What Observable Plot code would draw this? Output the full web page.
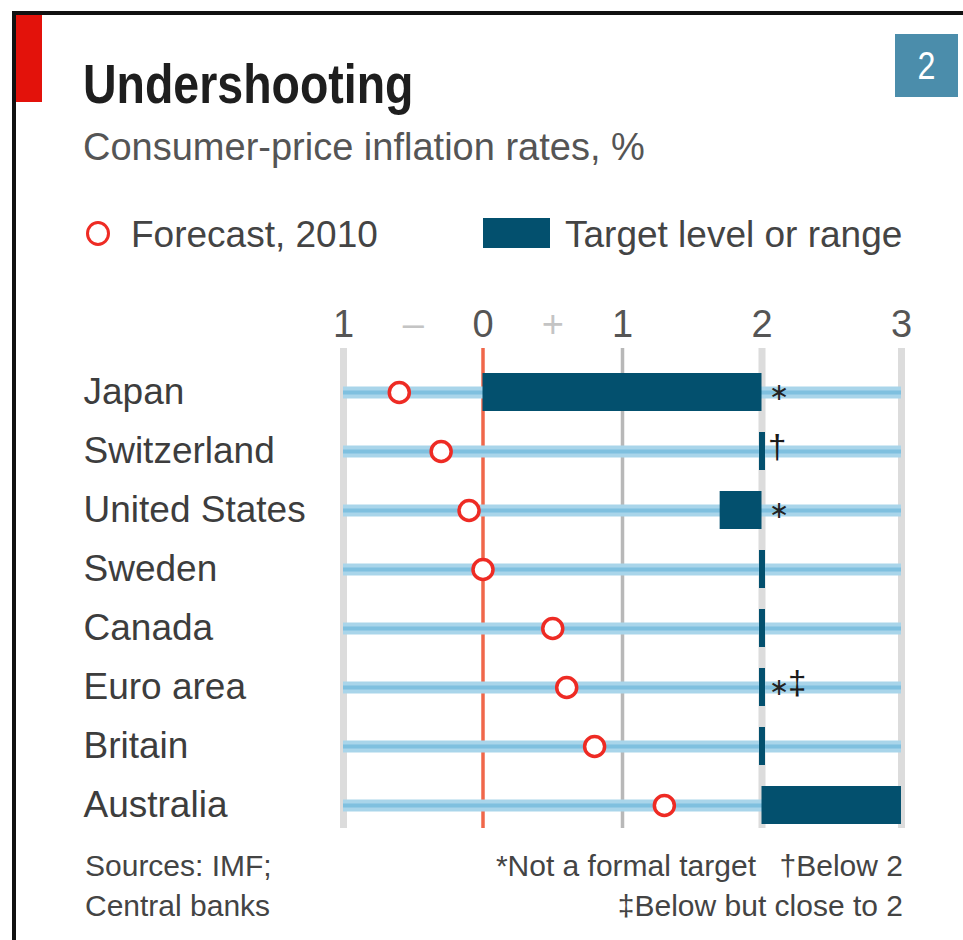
<!DOCTYPE html>
<html>
<head>
<meta charset="utf-8">
<script src="https://cdn.jsdelivr.net/npm/d3@7"></script>
<script src="https://cdn.jsdelivr.net/npm/@observablehq/plot@0.6"></script>
<style>
  body { margin: 0; background: #fff; }
  #page { position: relative; width: 963px; height: 940px; overflow: hidden; background: #fff;
          font-family: "Liberation Sans", Arial, sans-serif; }
  .abs { position: absolute; white-space: nowrap; line-height: 1; }
  #chart { position: absolute; left: 0; top: 290px; }
</style>
</head>
<body>
<div id="page">
  <div class="abs" style="left:12px;top:11px;width:951px;height:4px;background:#111;"></div>
  <div class="abs" style="left:12px;top:11px;width:4px;height:929px;background:#111;"></div>
  <div class="abs" style="left:16px;top:15px;width:26px;height:87px;background:#e3120b;"></div>
  <div class="abs" style="left:895px;top:34px;width:63px;height:63px;background:#4b8dab;color:#fff;
       font-size:38px;display:flex;align-items:center;justify-content:center;"><span style="display:inline-block;transform:scaleX(0.85);">2</span></div>

  <div class="abs" id="title" style="left:83px;top:55.6px;font-size:56px;font-weight:bold;color:#1e1e1e;
       transform:scaleX(0.83);transform-origin:0 0;">Undershooting</div>
  <div class="abs" id="subtitle" style="left:83px;top:127.8px;font-size:38px;color:#555;">Consumer-price inflation rates, %</div>

  <div class="abs" style="left:86px;top:221px;width:24px;height:25px;box-sizing:border-box;border:3.5px solid #ee2b24;border-radius:50%;"></div>
  <div class="abs" style="left:131px;top:215.7px;font-size:37px;color:#444;">Forecast, 2010</div>
  <div class="abs" style="left:483px;top:218px;width:67px;height:30px;background:#03506e;"></div>
  <div class="abs" style="left:565px;top:215.7px;font-size:37px;color:#444;">Target level or range</div>

  <div id="chart"></div>

  <div class="abs" style="left:85px;top:850.6px;font-size:30px;color:#444;">Sources: IMF;</div>
  <div class="abs" style="left:85px;top:890.6px;font-size:30px;color:#444;">Central banks</div>
  <div class="abs" style="right:207px;top:850.6px;font-size:30px;color:#444;">*Not a formal target</div>
  <div class="abs" style="right:60px;top:850.6px;font-size:30px;color:#444;">†Below 2</div>
  <div class="abs" style="right:60px;top:890.6px;font-size:30px;color:#444;">‡Below but close to 2</div>
</div>
<script>
const countries = ["Japan", "Switzerland", "United States", "Sweden", "Canada", "Euro area", "Britain", "Australia"];
const forecast2010 = [-0.6, -0.3, -0.1, 0.0, 0.5, 0.6, 0.8, 1.3];
const targetLow = [0, 2, 1.7, 2, 2, 2, 2, 2];
const targetHigh = [2, 2, 2, 2, 2, 2, 2, 3];
const starNotes = ["∗", "", "∗", "", "", "∗", "", ""];
const daggerNotes = ["", "†", "", "", "", "‡", "", ""];
const majorTicks = [-1, 0, 1, 2, 3];
const majorTickLabels = ["1", "0", "1", "2", "3"];
const signTicks = [-0.5, 0.5];
const signTickLabels = ["–", "+"];

const rows = countries.map((c, i) => ({
  country: c, forecast: forecast2010[i], lo: targetLow[i], hi: targetHigh[i],
  star: starNotes[i], dagger: daggerNotes[i]
}));

const chart = Plot.plot({
  width: 963,
  height: 550,
  marginLeft: 343,
  marginRight: 62,
  marginTop: 58,
  marginBottom: 12,
  style: { fontFamily: "'Liberation Sans', Arial, sans-serif", background: "transparent", overflow: "visible" },
  x: { domain: [-1, 3], axis: null },
  y: { type: "band", domain: countries, range: [71.36, 545.64], paddingInner: 0.359, paddingOuter: 0.1795, align: 0.5, axis: null },
  marks: [
    Plot.ruleX([-1, 2, 3], { stroke: "#dcdcdc", strokeWidth: 7 }),
    Plot.ruleX([1], { stroke: "#b8b8b8", strokeWidth: 3.5 }),
    Plot.ruleX([0], { stroke: "#f0674a", strokeWidth: 3.5 }),
    Plot.ruleY(rows, { y: "country", x1: -1, x2: 3, stroke: "#a9d5ea", strokeWidth: 12 }),
    Plot.ruleY(rows, { y: "country", x1: -1, x2: 3, stroke: "#7fc0df", strokeWidth: 4 }),
    Plot.barX(rows.filter(d => d.hi > d.lo), { x1: "lo", x2: "hi", y: "country", fill: "#03506e" }),
    Plot.tickX(rows.filter(d => d.hi === d.lo), { x: "lo", y: "country", stroke: "#03506e", strokeWidth: 6 }),
    Plot.text(rows.filter(d => d.star), { x: "hi", y: "country", text: "star", textAnchor: "start", dx: 7, fontSize: 24, fill: "#222" }),
    Plot.text(rows.filter(d => d.dagger && !d.star), { x: "hi", y: "country", text: "dagger", textAnchor: "start", dx: 6, dy: -4, fontSize: 33, fill: "#1a1a1a" }),
    Plot.text(rows.filter(d => d.dagger && d.star), { x: "hi", y: "country", text: "dagger", textAnchor: "start", dx: 26, dy: -4, fontSize: 33, fill: "#1a1a1a" }),
    Plot.dot(rows, { x: "forecast", y: "country", r: 10, stroke: "#ee2b24", strokeWidth: 3.5, fill: "white" }),
    Plot.axisX(majorTicks, { anchor: "top", tickSize: 0, tickPadding: 12, label: null,
      tickFormat: d => majorTickLabels[majorTicks.indexOf(d)], fill: "#555", fontSize: 38 }),
    Plot.axisX(signTicks, { anchor: "top", tickSize: 0, tickPadding: 12, label: null,
      tickFormat: d => signTickLabels[signTicks.indexOf(d)], fill: "#c4c4c4", fontSize: 38 }),
    Plot.axisY({ anchor: "left", tickSize: 0, tickPadding: 260, textAnchor: "start", label: null,
      fill: "#3d3d3d", fontSize: 37 })
  ]
});
document.getElementById("chart").appendChild(chart);
</script>
</body>
</html>
